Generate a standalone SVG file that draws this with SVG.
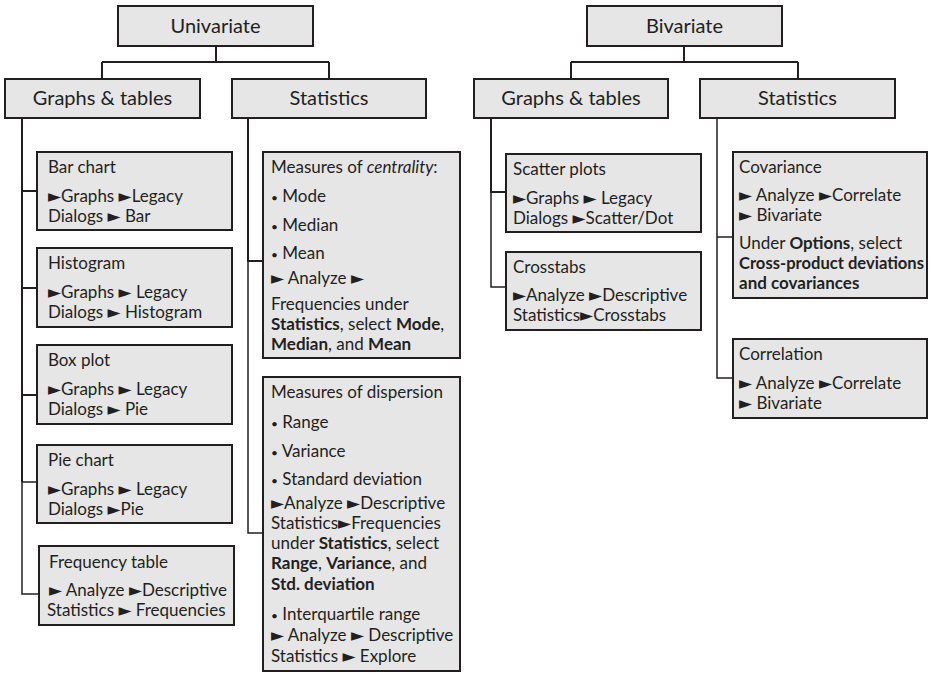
<svg xmlns="http://www.w3.org/2000/svg" width="932" height="673" viewBox="0 0 932 673">
<style>
.box{fill:#e6e6e7;stroke:#231f20;stroke-width:2}
.h{font-family:Lato,"DejaVu Sans",sans-serif;font-size:20px;fill:#231f20;text-anchor:middle}
.t{font-family:Lato,"DejaVu Sans",sans-serif;font-size:17px;fill:#231f20}
.b{font-weight:bold}
.i{font-style:italic}
.d{font-size:12px}
.c{fill:none;stroke:#231f20;stroke-width:2}
.c2{fill:none;stroke:#231f20;stroke-width:1.5}
</style>
<rect width="932" height="673" fill="#fff"/>
<g id="connectors">
<path class="c" d="M216,46V62M102,62H329M102,62V79M329,62V79"/>
<path class="c" d="M684,46V62M571,62H798M571,62V79M798,62V79"/>
<path class="c" d="M22,118V482M22,191H37M22,288H37M22,395H37"/>
<path class="c2" d="M22,482H37M22,481V594H39"/>
<path class="c" d="M248,118V262M248,261H263"/>
<path class="c2" d="M248,261V533H263"/>
<path class="c" d="M491,118V193M491,192H506"/>
<path class="c2" d="M491,192V287H506"/>
<path class="c2" d="M717,118V378H733M717,237H733"/>
</g>
<g id="univariate"><rect class="box" x="118" y="6" width="195" height="40"/><text class="h" x="215.5" y="33">Univariate</text></g>
<g id="uni-graphs"><rect class="box" x="5" y="79" width="195" height="39"/><text class="h" x="102.5" y="105">Graphs &amp; tables</text></g>
<g id="uni-stats"><rect class="box" x="232" y="79" width="194" height="39"/><text class="h" x="329" y="105">Statistics</text></g>
<g id="bivariate"><rect class="box" x="587" y="6" width="195" height="40"/><text class="h" x="684.5" y="33">Bivariate</text></g>
<g id="bi-graphs"><rect class="box" x="474" y="79" width="194" height="39"/><text class="h" x="571" y="105">Graphs &amp; tables</text></g>
<g id="bi-stats"><rect class="box" x="700" y="79" width="195" height="39"/><text class="h" x="797.5" y="105">Statistics</text></g>

<g id="bar-chart"><rect class="box" x="37" y="152" width="195" height="78"/>
<text class="t" x="48" y="173">Bar chart</text>
<text class="t" x="48" y="202">►Graphs ►Legacy</text>
<text class="t" x="48" y="222">Dialogs ► Bar</text></g>
<g id="histogram"><rect class="box" x="37" y="248" width="195" height="79"/>
<text class="t" x="48" y="269">Histogram</text>
<text class="t" x="48" y="298">►Graphs ► Legacy</text>
<text class="t" x="48" y="318">Dialogs ► Histogram</text></g>
<g id="box-plot"><rect class="box" x="37" y="345" width="195" height="79"/>
<text class="t" x="48" y="366">Box plot</text>
<text class="t" x="48" y="395">►Graphs ► Legacy</text>
<text class="t" x="48" y="415">Dialogs ► Pie</text></g>
<g id="pie-chart"><rect class="box" x="37" y="445" width="195" height="78"/>
<text class="t" x="48" y="466">Pie chart</text>
<text class="t" x="48" y="495">►Graphs ► Legacy</text>
<text class="t" x="48" y="515">Dialogs ►Pie</text></g>
<g id="frequency-table"><rect class="box" x="39" y="546" width="195" height="79"/>
<text class="t" x="49" y="568">Frequency table</text>
<text class="t" x="49" y="596">► Analyze ►Descriptive</text>
<text class="t" x="47" y="616">Statistics ► Frequencies</text></g>

<g id="centrality"><rect class="box" x="263" y="152" width="197" height="206"/>
<text class="t" x="271" y="173">Measures of <tspan class="i">centrality</tspan>:</text>
<text class="t" x="271" y="202"><tspan class="d">•</tspan> Mode</text>
<text class="t" x="271" y="231"><tspan class="d">•</tspan> Median</text>
<text class="t" x="271" y="259"><tspan class="d">•</tspan> Mean</text>
<text class="t" x="271" y="284">► Analyze ►</text>
<text class="t" x="271" y="310">Frequencies under</text>
<text class="t" x="271" y="330"><tspan class="b">Statistics</tspan>, select <tspan class="b">Mode</tspan>,</text>
<text class="t" x="271" y="350"><tspan class="b">Median</tspan>, and <tspan class="b">Mean</tspan></text></g>
<g id="dispersion"><rect class="box" x="263" y="377" width="197" height="294"/>
<text class="t" x="271" y="398">Measures of dispersion</text>
<text class="t" x="271" y="428"><tspan class="d">•</tspan> Range</text>
<text class="t" x="271" y="457"><tspan class="d">•</tspan> Variance</text>
<text class="t" x="271" y="485"><tspan class="d">•</tspan> Standard deviation</text>
<text class="t" x="271" y="509">►Analyze ►Descriptive</text>
<text class="t" x="271" y="529">Statistics►Frequencies</text>
<text class="t" x="271" y="549">under <tspan class="b">Statistics</tspan>, select</text>
<text class="t" x="271" y="569"><tspan class="b">Range</tspan>, <tspan class="b">Variance</tspan>, and</text>
<text class="t" x="271" y="590" font-weight="bold">Std. deviation</text>
<text class="t" x="271" y="620"><tspan class="d">•</tspan> Interquartile range</text>
<text class="t" x="271" y="641">► Analyze ► Descriptive</text>
<text class="t" x="271" y="662">Statistics ► Explore</text></g>

<g id="scatter-plots"><rect class="box" x="506" y="154" width="195" height="78"/>
<text class="t" x="513" y="175">Scatter plots</text>
<text class="t" x="513" y="204">►Graphs ► Legacy</text>
<text class="t" x="513" y="224">Dialogs ►Scatter/Dot</text></g>
<g id="crosstabs"><rect class="box" x="506" y="252" width="195" height="78"/>
<text class="t" x="513" y="273">Crosstabs</text>
<text class="t" x="513" y="301">►Analyze ►Descriptive</text>
<text class="t" x="513" y="321">Statistics►Crosstabs</text></g>

<g id="covariance"><rect class="box" x="733" y="152" width="194" height="146"/>
<text class="t" x="739" y="173">Covariance</text>
<text class="t" x="739" y="201">► Analyze ►Correlate</text>
<text class="t" x="739" y="221">► Bivariate</text>
<text class="t" x="739" y="249">Under <tspan class="b">Options</tspan>, select</text>
<text class="t b" x="739" y="269" textLength="185" lengthAdjust="spacingAndGlyphs">Cross-product deviations</text>
<text class="t b" x="739" y="289">and covariances</text></g>
<g id="correlation"><rect class="box" x="733" y="339" width="194" height="79"/>
<text class="t" x="739" y="360">Correlation</text>
<text class="t" x="739" y="389">► Analyze ►Correlate</text>
<text class="t" x="739" y="409">► Bivariate</text></g>
</svg>
